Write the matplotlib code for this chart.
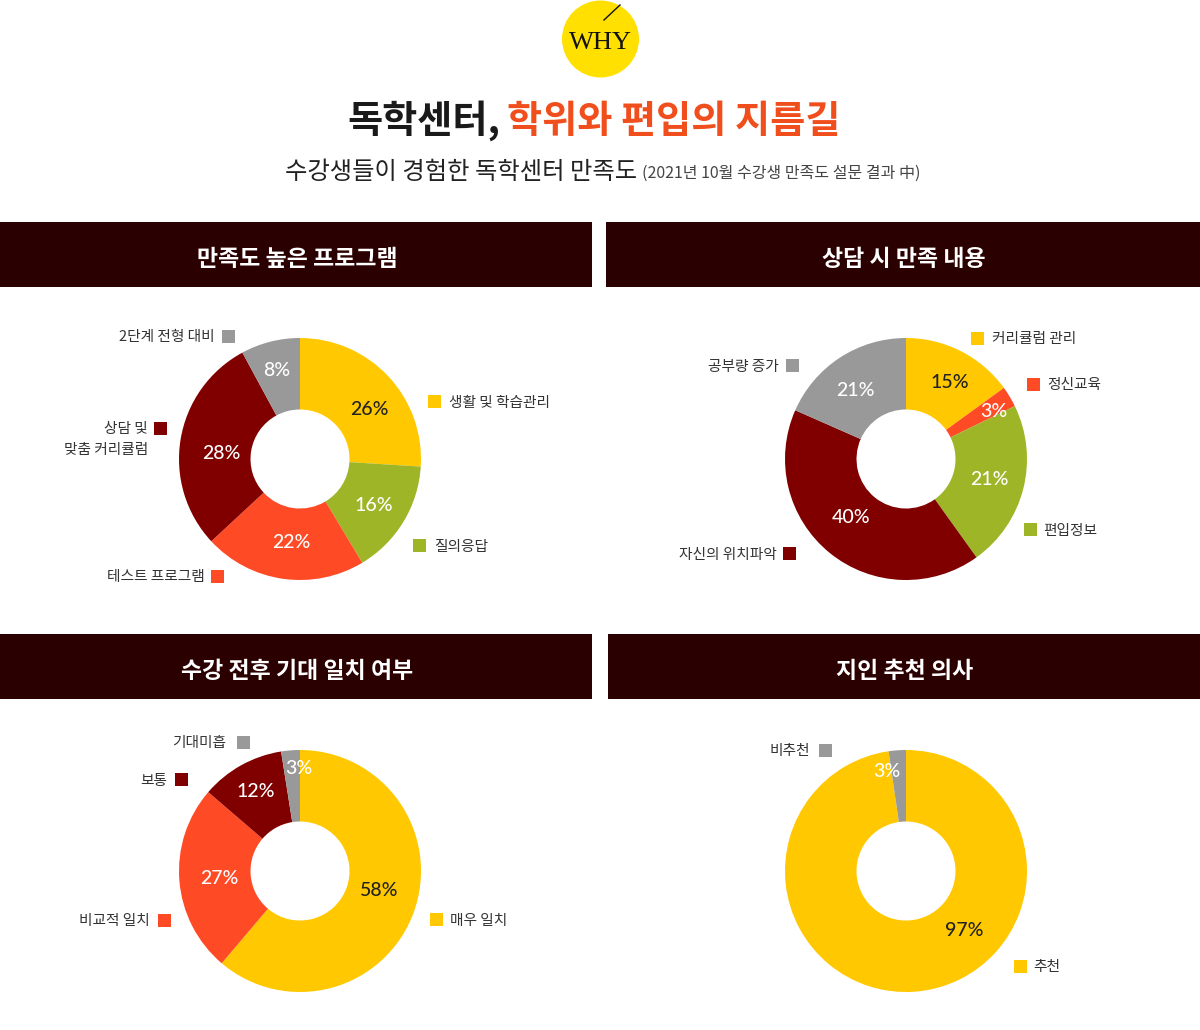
import matplotlib
matplotlib.use('Agg')
import matplotlib.pyplot as plt
from matplotlib.patches import Rectangle, Circle

plt.rcParams['font.family'] = ['Noto Sans CJK KR', 'DejaVu Sans']

BLACK = '#2b0000'
YEL = '#ffc800'
ORG = '#ff4a26'
GRN = '#9db526'
RED = '#800000'
GRY = '#999999'

title_a = '독학센터,'
title_b = '학위와 편입의 지름길'
subtitle = '수강생들이 경험한 독학센터 만족도'
subnote = '(2021년 10월 수강생 만족도 설문 결과 中)'

p1_title = '만족도 높은 프로그램'
p1_vals = [26, 15.4, 21.7, 29, 7.9]
p1_labs = ['26%', '16%', '22%', '28%', '8%']
p1_cols = [YEL, GRN, ORG, RED, GRY]
p1_txt = ['#222222', 'white', 'white', 'white', 'white']

p2_title = '상담 시 만족 내용'
p2_vals = [15, 2.8, 22.3, 41.5, 18.4]
p2_labs = ['15%', '3%', '21%', '40%', '21%']
p2_cols = [YEL, ORG, GRN, RED, GRY]
p2_txt = ['#222222', 'white', 'white', 'white', 'white']

p3_title = '수강 전후 기대 일치 여부'
p3_vals = [61.2, 25.1, 11.2, 2.5]
p3_labs = ['58%', '27%', '12%', '3%']
p3_cols = [YEL, ORG, RED, GRY]
p3_txt = ['#222222', 'white', 'white', 'white']

p4_title = '지인 추천 의사'
p4_vals = [97.7, 2.3]
p4_labs = ['97%', '3%']
p4_cols = [YEL, GRY]
p4_txt = ['#222222', 'white']

W, H = 1200, 1030
fig = plt.figure(figsize=(W/100, H/100), dpi=100, facecolor='white')
bg = fig.add_axes([0, 0, 1, 1], zorder=0)
bg.set_xlim(0, W); bg.set_ylim(H, 0); bg.axis('off')
top = fig.add_axes([0, 0, 1, 1], zorder=5)
top.set_xlim(0, W); top.set_ylim(H, 0); top.axis('off')
top.patch.set_alpha(0)

# badge
bg.add_patch(Circle((600.5, 39), 38.5, color='#ffe000', lw=0))
bg.plot([604, 620], [20, 5], color='#111111', lw=1)
bg.text(600, 43, 'WHY', family=['Liberation Serif'], fontsize=19, ha='center', va='center', color='#111111')

# titles
bg.text(500, 121, title_a, fontsize=27.5, fontweight='black', ha='right', va='center', color='#1a1a1a')
bg.text(507, 121, title_b, fontsize=27.5, fontweight='black', ha='left', va='center', color='#f04e1c')
bg.text(637, 172, subtitle, fontsize=17.5, ha='right', va='center', color='#222222')
bg.text(642, 173, subnote, fontsize=11.5, ha='left', va='center', color='#444444')

# header bands
bands = [(0, 222, 592, p1_title), (606, 222, 594, p2_title), (0, 634, 592, p3_title), (608, 634, 592, p4_title)]
for x, y, w, t in bands:
    bg.add_patch(Rectangle((x, y), w, 65, color=BLACK, lw=0))
    bg.text(x + w/2 + 1, y + 37, t, color='white', fontsize=16.5, fontweight='black', ha='center', va='center')

def donut(cx, cy, vals, labs, cols, txt, lab_xy):
    r = 121
    ax = fig.add_axes([(cx-r)/W, 1-(cy+r)/H, 2*r/W, 2*r/H], zorder=1)
    ax.pie(vals, colors=cols, startangle=90, counterclock=False, radius=1,
           wedgeprops=dict(width=1-49.5/121, linewidth=0))
    ax.set_xlim(-1, 1); ax.set_ylim(-1, 1)
    for s, (x, y), c in zip(labs, lab_xy, txt):
        top.text(x, y + 1.5, s, color=c, family=['Lato'], fontsize=14, fontweight='medium', ha='center', va='center')

donut(300, 459, p1_vals, p1_labs, p1_cols, p1_txt, [(369,408),(374,504),(291,541),(221,452),(277,369)])
donut(906, 459, p2_vals, p2_labs, p2_cols, p2_txt, [(950,381),(994,410),(989,478),(851,516),(855,389)])
donut(300, 871, p3_vals, p3_labs, p3_cols, p3_txt, [(379,889),(219,877),(256,790),(299,767)])
donut(906, 871, p4_vals, p4_labs, p4_cols, p4_txt, [(964,929),(887,770)])

def leg(sx, sy, col, text, tx, side):
    bg.add_patch(Rectangle((sx, sy-6.5), 13, 13, color=col, lw=0))
    bg.text(tx, sy + 1.5, text, fontsize=10.6, ha=side, va='center', color='#333333')

leg(222, 336, GRY, '2단계 전형 대비', 215, 'right')
leg(154, 428, RED, '상담 및', 148, 'right')
bg.text(148, 450, '맞춤 커리큘럼', fontsize=10.6, ha='right', va='center', color='#333333')
leg(428, 401, YEL, '생활 및 학습관리', 449, 'left')
leg(413, 545, GRN, '질의응답', 434, 'left')
leg(211, 576, ORG, '테스트 프로그램', 205, 'right')

leg(971, 338, YEL, '커리큘럼 관리', 992, 'left')
leg(1027, 384, ORG, '정신교육', 1047, 'left')
leg(1024, 529, GRN, '편입정보', 1043, 'left')
leg(786, 365, GRY, '공부량 증가', 779, 'right')
leg(783, 553, RED, '자신의 위치파악', 777, 'right')

leg(237, 742, GRY, '기대미흡', 226, 'right')
leg(175, 779, RED, '보통', 167, 'right')
leg(430, 919, YEL, '매우 일치', 450, 'left')
leg(158, 920, ORG, '비교적 일치', 150, 'right')

leg(819, 750, GRY, '비추천', 810, 'right')
leg(1014, 966, YEL, '추천', 1033, 'left')

fig.savefig('out.png', dpi=100, facecolor='white')
